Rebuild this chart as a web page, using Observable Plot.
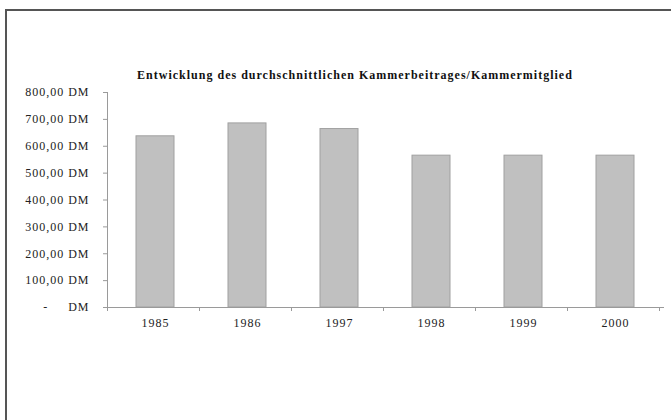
<!DOCTYPE html>
<html>
<head>
<meta charset="utf-8">
<script src="https://cdn.jsdelivr.net/npm/d3@7"></script>
<script src="https://cdn.jsdelivr.net/npm/@observablehq/plot@0.6"></script>
<style>
  html, body { margin: 0; padding: 0; background: #fff; }
  #page { position: relative; width: 671px; height: 420px; overflow: hidden; }
  #frame {
    position: absolute; left: 5px; top: 9px; width: 700px; height: 440px;
    border-left: 2px solid #555; border-top: 2px solid #555;
  }
  #title {
    position: absolute; left: 0; top: 68px; width: 710px; text-align: center;
    font-family: "Liberation Serif", serif; font-weight: bold; font-size: 12px;
    letter-spacing: 1px; color: #111;
  }
  #chart { position: absolute; left: 0; top: 0; }
</style>
</head>
<body>
<div id="page">
  <div id="frame"></div>
  <div id="chart"></div>
  <div id="title">Entwicklung des durchschnittlichen Kammerbeitrages/Kammermitglied</div>
</div>
<script>
// Average chamber fee per member, in DM
const years = ["1985", "1986", "1997", "1998", "1999", "2000"];
const beitrag = [637, 685, 664, 565, 565, 565];
const yTicks = [0, 100, 200, 300, 400, 500, 600, 700, 800];

const rows = years.map((year, i) => ({year, value: beitrag[i]}));

// German currency labels; zero shown as a dash in accounting style
const fmtDM = (v) => v === 0
  ? "-\u00a0\u00a0\u00a0\u00a0 DM"
  : v.toFixed(2).replace(".", ",") + " DM";

const barPad = 0.585;

// Y axis line and category boundary ticks, placed through the scales
function axisFrame(index, scales, values, dimensions) {
  const {x, y} = scales;
  const g = d3.create("svg:g").attr("stroke", "#9a9a9a").attr("fill", "none");
  const [x0] = x.range();
  const step = x.step();
  const yBase = y(0);
  g.append("line")
    .attr("x1", x0 + 0.5).attr("x2", x0 + 0.5)
    .attr("y1", y(yTicks[yTicks.length - 1])).attr("y2", yBase);
  for (let i = 0; i <= years.length; ++i) {
    const px = Math.round(x0 + i * step) + 0.5;
    g.append("line").attr("x1", px).attr("x2", px).attr("y1", yBase).attr("y2", yBase + 4);
  }
  return g.node();
}

const chart = Plot.plot({
  width: 671,
  height: 350,
  marginLeft: 107,
  marginRight: 7,
  marginTop: 92,
  marginBottom: 43,
  style: {fontFamily: "Liberation Serif, serif", fontSize: "12px", letterSpacing: "1px", color: "#222", background: "transparent", overflow: "visible"},
  x: {domain: years, paddingInner: barPad, paddingOuter: barPad / 2, label: null},
  y: {domain: [0, 800], label: null},
  marks: [
    Plot.barY(rows, {x: "year", y: "value", fill: "#c0c0c0", stroke: "#a0a0a0", strokeWidth: 1}),
    Plot.ruleY([0], {stroke: "#9a9a9a"}),
    Plot.axisY({ticks: yTicks, tickSize: 4, tickPadding: 14, tickFormat: fmtDM, stroke: "#9a9a9a", label: null}),
    Plot.axisX({tickSize: 0, tickPadding: 11, label: null}),
    axisFrame
  ]
});
document.getElementById("chart").appendChild(chart);
</script>
</body>
</html>
